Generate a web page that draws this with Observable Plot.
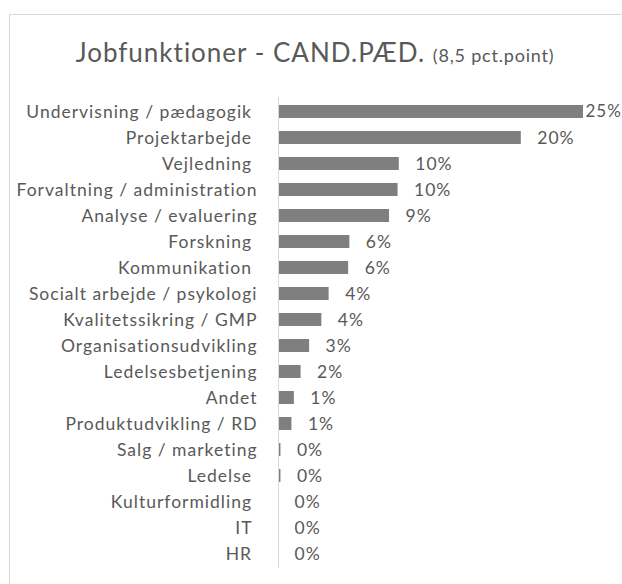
<!DOCTYPE html>
<html>
<head>
<meta charset="utf-8">
<script src="https://cdn.jsdelivr.net/npm/d3@7"></script>
<script src="https://cdn.jsdelivr.net/npm/@observablehq/plot@0.6"></script>
<style>
  html, body { margin: 0; padding: 0; background: #fff; overflow: hidden; width: 622px; height: 584px; }
  #frame { position: absolute; left: 9px; top: 14px; width: 700px; height: 700px; border: 1px solid #d9d9d9; box-sizing: border-box; }
  #title { position: absolute; left: 0; top: 37px; width: 630px; text-align: center; font-family: Lato, sans-serif; color: #595959; font-size: 26px; letter-spacing: 1px; white-space: nowrap; line-height: 1.2; }
  #title .sub { font-size: 18px; letter-spacing: 0.8px; }
  #chart { position: absolute; left: 0; top: 90px; }
  #chart svg text { white-space: pre; letter-spacing: 1px; }
</style>
</head>
<body>
<div id="frame"></div>
<div id="title">Jobfunktioner - CAND.PÆD. <span class="sub">(8,5 pct.point)</span></div>
<div id="chart"></div>
<script>
const categories = [
  "Undervisning / pædagogik ",
  "Projektarbejde ",
  "Vejledning ",
  "Forvaltning / administration",
  "Analyse / evaluering",
  "Forskning ",
  "Kommunikation ",
  "Socialt arbejde / psykologi",
  "Kvalitetssikring / GMP",
  "Organisationsudvikling",
  "Ledelsesbetjening",
  "Andet",
  "Produktudvikling / RD",
  "Salg / marketing",
  "Ledelse ",
  "Kulturformidling ",
  "IT ",
  "HR "
];
const values = [25.0, 19.9, 9.9, 9.8, 9.1, 5.85, 5.75, 4.15, 3.55, 2.55, 1.85, 1.3, 1.1, 0.2, 0.2, 0, 0, 0];
const labels = ["25%", "20%", "10%", "10%", "9%", "6%", "6%", "4%", "4%", "3%", "2%", "1%", "1%", "0%", "0%", "0%", "0%", "0%"];

const data = categories.map((c, i) => ({category: c, value: values[i], label: labels[i]}));

const chart = Plot.plot({
  width: 622,
  height: 494,
  marginLeft: 278,
  marginRight: 39,
  marginTop: 7,
  marginBottom: 16,
  style: {fontFamily: "Lato, sans-serif", color: "#595959", background: "transparent"},
  x: {domain: [0, 25], axis: null},
  y: {domain: categories, paddingInner: 0.5, paddingOuter: 0.25, label: null},
  marks: [
    Plot.barX(data, {x: "value", y: "category", fill: "#7f7f7f"}),
    Plot.ruleX([0], {stroke: "#d9d9d9", strokeWidth: 1}),
    Plot.axisY({tickSize: 0, tickPadding: 21, fontSize: 17.5, fill: "#595959", label: null}),
    Plot.text(data.filter((d, i) => i === 0), {x: "value", y: "category", text: "label", textAnchor: "start", dx: 2, fontSize: 17, fill: "#595959"}),
    Plot.text(data.filter((d, i) => i > 0), {x: "value", y: "category", text: "label", textAnchor: "start", dx: 16, fontSize: 17.5, fill: "#595959"})
  ]
});
document.getElementById("chart").appendChild(chart);
</script>
</body>
</html>
